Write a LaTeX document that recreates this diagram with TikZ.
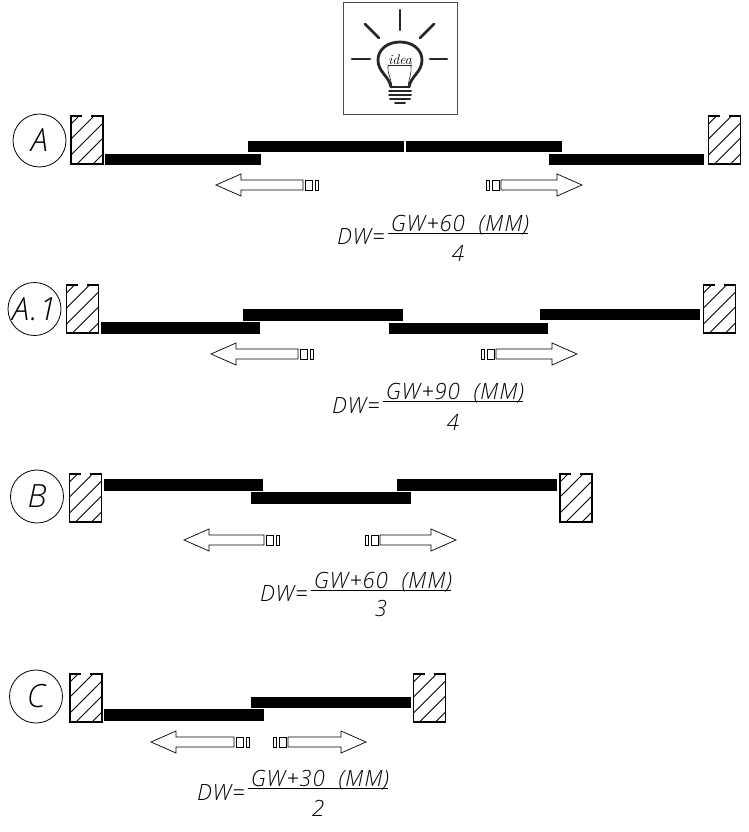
\documentclass[tikz,border=0pt]{standalone}
\usepackage{fontspec}
\setmainfont{Open Sans Light}[ItalicFont={Open Sans Light Italic},LetterSpace=4]
\tikzset{
    rowlabel/.style={circle,draw=black,line width=0.8pt,minimum size=53pt,inner sep=0pt,font=\fontsize{32}{32}\selectfont\itshape},
    panel/.style={fill=black},
    jamb/.style={draw=black,line width=1.5pt},
    hatchline/.style={draw=black,line width=0.8pt},
    slide/.style={draw=black,line width=0.7pt},
    lamp/.style={draw=black!85,line width=2.8pt,line cap=round},
    sizetext/.style={inner sep=2pt,font=\fontsize{22.4}{23}\selectfont\itshape},
}
% wall section, x and y of its top left corner
\newcommand{\wallsection}[2]{
    \begin{scope}[shift={(#1,#2)}]
        \draw[jamb] (11,0) -- (0,0) -- (0,48) -- (32,48) -- (32,0) -- (20,0);
        \draw[hatchline] (0,8) -- (8,0);
        \draw[hatchline] (0,23) -- (23,0);
        \draw[hatchline] (0,39) -- (32,7);
        \draw[hatchline] (6,48) -- (32,22);
        \draw[hatchline] (22,48) -- (32,38);
    \end{scope}
}
% tip x, y, direction (1 opens to the left, -1 to the right), shaft length
\newcommand{\slidearrow}[4]{
    \begin{scope}[shift={(#1,#2)},xscale=#3]
        \draw[slide] (0,0) -- (25,-11) -- (25,-5) -- (#4,-5) -- (#4,5) -- (25,5) -- (25,11) -- cycle;
        \draw[slide] ({#4+2},-5) rectangle ({#4+9},5);
        \draw[slide] ({#4+12},-5) rectangle ({#4+15},5);
    \end{scope}
}
\begin{document}
\begin{tikzpicture}[x=1pt,y=-1pt]
    \useasboundingbox (0,0) rectangle (748,832);
    % idea lamp
    \node[draw=black!70,line width=1pt,minimum width=114pt,minimum height=112pt,inner sep=0pt] (lampbox) at (400,59) {};
    \draw[lamp] (400,10) -- (400,30);
    \draw[lamp] (352,59) -- (370,59);
    \draw[lamp] (430,59) -- (447,59);
    \draw[lamp] (365,24) -- (379,38);
    \draw[lamp] (434,24) -- (420,38);
    \draw[lamp] (391,87) .. controls (389,76) and (378,72) .. (378,60) .. controls (378,49) and (388,42) .. (400,42) .. controls (412,42) and (422,49) .. (422,60) .. controls (422,72) and (411,76) .. (409,87);
    \draw[lamp] (391,87) -- (409,87);
    \draw[lamp,line width=2pt] (389,91) -- (411,91);
    \draw[lamp,line width=2pt] (389,95) -- (411,95);
    \draw[lamp,line width=2pt] (390,99) -- (410,99);
    \draw[lamp,line width=2pt] (395,103) -- (405,103);
    \draw[black!85,line width=0.6pt] (392,87) .. controls (391,78) and (387,72) .. (388,66);
    \draw[black!85,line width=0.6pt] (408,87) .. controls (409,78) and (412,72) .. (411,66);
    \node[inner sep=0pt,font=\fontfamily{lmr}\fontsize{14}{14}\selectfont\itshape] (ideatext) at (400,60) {idea};
    \draw[black!85,line width=0.6pt] (ideatext.south west) -- (ideatext.south east);
    % A
    \node[rowlabel] (rowA) at (39.5,140.5) {A};
    \wallsection{71}{116}
    \wallsection{708.5}{116}
    \fill[panel] (105,154) rectangle (261,165);
    \fill[panel] (248,141) rectangle (404,152);
    \fill[panel] (406,141) rectangle (562,152);
    \fill[panel] (549,154) rectangle (704,165);
    \slidearrow{216}{185}{1}{87}
    \slidearrow{582}{185}{-1}{81}
    \node[sizetext,anchor=base west] (dwA) at (335,244) {DW=};
    \node[sizetext,anchor=base] (numA) at (460,231) {GW+60\ \ (MM)};
    \node[sizetext,anchor=base] (denA) at (458,261) {4};
    \draw[line width=0.8pt] (388,233) -- (528,233);
    % A.1
    \node[rowlabel] (rowAone) at (34.5,309) {A.1};
    \wallsection{66.5}{285}
    \wallsection{703.5}{285}
    \fill[panel] (101,322) rectangle (260,334);
    \fill[panel] (243,309) rectangle (403,321);
    \fill[panel] (389,323) rectangle (548,334);
    \fill[panel] (540,309) rectangle (700,320);
    \slidearrow{211}{354}{1}{87}
    \slidearrow{577}{354}{-1}{81}
    \node[sizetext,anchor=base west] (dwAone) at (330,413) {DW=};
    \node[sizetext,anchor=base] (numAone) at (455,399) {GW+90\ \ (MM)};
    \node[sizetext,anchor=base] (denAone) at (453,430) {4};
    \draw[line width=0.8pt] (383,401) -- (523,401);
    % B
    \node[rowlabel] (rowB) at (37,496.5) {B};
    \wallsection{69.5}{474}
    \wallsection{560}{474}
    \fill[panel] (104,479) rectangle (263,491);
    \fill[panel] (251,492) rectangle (411,504);
    \fill[panel] (397,479) rectangle (557,491);
    \slidearrow{184}{540}{1}{80}
    \slidearrow{456}{540}{-1}{76}
    \node[sizetext,anchor=base west] (dwB) at (258,601) {DW=};
    \node[sizetext,anchor=base] (numB) at (383,588) {GW+60\ \ (MM)};
    \node[sizetext,anchor=base] (denB) at (381,616) {3};
    \draw[line width=0.8pt] (311,590) -- (451,590);
    % C
    \node[rowlabel] (rowC) at (36,696.5) {C};
    \wallsection{70}{674}
    \wallsection{413.5}{674}
    \fill[panel] (104,709) rectangle (264,721);
    \fill[panel] (251,697) rectangle (411,708);
    \slidearrow{151}{742}{1}{83}
    \slidearrow{366}{742}{-1}{78}
    \node[sizetext,anchor=base west] (dwC) at (195,800) {DW=};
    \node[sizetext,anchor=base] (numC) at (320,786) {GW+30\ \ (MM)};
    \node[sizetext,anchor=base] (denC) at (318,816) {2};
    \draw[line width=0.8pt] (248,788) -- (388,788);
\end{tikzpicture}
\end{document}
